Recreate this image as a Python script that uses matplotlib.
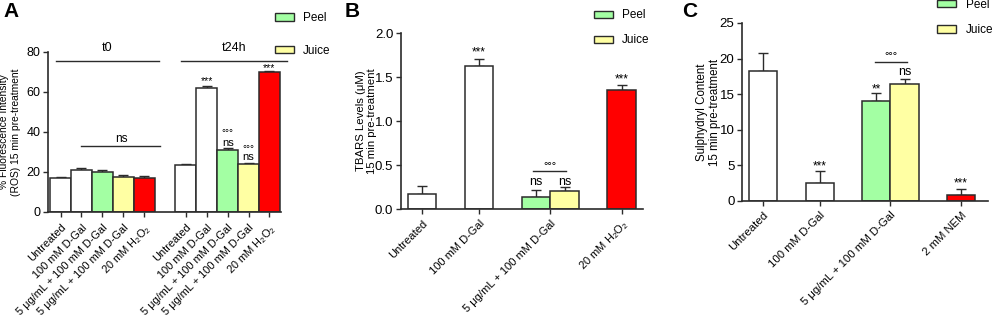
import matplotlib
matplotlib.use("Agg")
import matplotlib.pyplot as plt
from matplotlib.patches import Patch

plt.rcParams['font.family'] = ['Liberation Sans', 'DejaVu Sans']
plt.rcParams['mathtext.fontset'] = 'custom'
plt.rcParams['mathtext.rm'] = 'Liberation Sans'
plt.rcParams['mathtext.it'] = 'Liberation Sans:italic'
plt.rcParams['mathtext.bf'] = 'Liberation Sans:bold'

# ---------------- data ----------------
A_labels = ["Untreated", "100 mM D-Gal", "5 μg/mL + 100 mM D-Gal",
            "5 μg/mL + 100 mM D-Gal", "20 mM H$_2$O$_2$"]
A_t0 = [17.0, 21.0, 20.0, 17.5, 17.0]
A_t0_err = [0.5, 1.0, 1.2, 0.8, 0.8]
A_t24 = [23.5, 62.0, 31.0, 24.0, 70.0]
A_t24_err = [0.7, 0.8, 1.0, 0.7, 0.6]

B_labels = ["Untreated", "100 mM D-Gal", "5 μg/mL + 100 mM D-Gal", "20 mM H$_2$O$_2$"]
B_vals = [0.17, 1.62, 0.14, 0.20, 1.35]
B_err = [0.09, 0.09, 0.08, 0.05, 0.06]

C_labels = ["Untreated", "100 mM D-Gal", "5 μg/mL + 100 mM D-Gal", "2 mM NEM"]
C_vals = [18.2, 2.5, 14.0, 16.5, 0.9]
C_err = [2.6, 1.7, 1.1, 0.6, 0.8]

legend_labels = ["Peel", "Juice"]

# ---------------- style ----------------
WHITE, GREEN, YELLOW, RED = "#FFFFFF", "#A3FFA3", "#FFFFA3", "#FF0000"
EDGE = "#2b2b2b"
bar_colors5 = [WHITE, WHITE, GREEN, YELLOW, RED]

fig = plt.figure(figsize=(9.96, 3.15), dpi=100)

def style_axis(ax, ysize):
    for s in ['top', 'right']:
        ax.spines[s].set_visible(False)
    for s in ['left', 'bottom']:
        ax.spines[s].set_linewidth(1.2)
        ax.spines[s].set_color(EDGE)
    ax.tick_params(axis='both', direction='out', width=1.0, color=EDGE, length=3.5)
    ax.tick_params(axis='y', labelsize=ysize, pad=2)

def bars(ax, x, vals, errs, colors):
    ax.bar(x, vals, width=1.0, color=colors, edgecolor=EDGE, linewidth=1.1, zorder=2)
    ax.errorbar(x, vals, yerr=[[0]*len(errs), errs], fmt='none', ecolor=EDGE,
                elinewidth=1.0, capsize=3.5, capthick=1.0, zorder=1)

def xlabels(ax, ticks, labels, size, pad=4):
    ax.set_xticks(ticks)
    ax.set_xticklabels(labels, rotation=45, ha='right', rotation_mode='anchor',
                       fontsize=size)
    ax.tick_params(axis='x', pad=pad)

def legend(x, y, spacing):
    handles = [Patch(facecolor=GREEN, edgecolor=EDGE, linewidth=1.0),
               Patch(facecolor=YELLOW, edgecolor=EDGE, linewidth=1.0)]
    fig.legend(handles, legend_labels, loc='upper left', bbox_to_anchor=(x, y),
               bbox_transform=fig.transFigure, frameon=False, fontsize=8.5,
               handlelength=1.6, handleheight=0.6, handletextpad=0.8,
               labelspacing=spacing, borderpad=0, borderaxespad=0)

# ---------------- panel A ----------------
axA = fig.add_axes([0.0482, 0.327, 0.2339, 0.508])
style_axis(axA, 9)
xA0 = [0, 1, 2, 3, 4]
xA1 = [6, 7, 8, 9, 10]
bars(axA, xA0, A_t0, A_t0_err, bar_colors5)
bars(axA, xA1, A_t24, A_t24_err, bar_colors5)
axA.set_ylim(0, 80)
axA.set_yticks([0, 20, 40, 60, 80])
axA.set_xlim(-0.6, 10.55)
xlabels(axA, xA0 + xA1, A_labels + A_labels, 7.9)
axA.text(-0.162, 0.5, "% Fluorescence Intensity\n(ROS) 15 min pre-treatment",
         transform=axA.transAxes, rotation=90, ha='center', va='center',
         fontsize=7.4, multialignment='center', linespacing=1.25)
# group lines
axA.plot([-0.2, 4.7], [75.5, 75.5], color=EDGE, lw=1.0, clip_on=False)
axA.plot([5.75, 10.85], [75.5, 75.5], color=EDGE, lw=1.0, clip_on=False)
axA.text(2.25, 82, "t0", ha='center', va='center', fontsize=9, clip_on=False)
axA.text(8.3, 82, "t24h", ha='center', va='center', fontsize=9, clip_on=False)
axA.plot([1.0, 4.75], [33, 33], color=EDGE, lw=1.0)
axA.text(2.9, 36.5, "ns", ha='center', va='center', fontsize=8.5)
axA.text(7, 65.3, "***", ha='center', va='center', fontsize=7.5)
axA.text(10, 71.8, "***", ha='center', va='center', fontsize=7.5, clip_on=False)
axA.text(8, 39.2, "°°°", ha='center', va='center', fontsize=7)
axA.text(8, 34.6, "ns", ha='center', va='center', fontsize=8)
axA.text(9, 31.6, "°°°", ha='center', va='center', fontsize=7)
axA.text(9, 27.3, "ns", ha='center', va='center', fontsize=8)
fig.text(0.004, 0.962, "A", fontsize=15, fontweight='bold', ha='left', va='center')
legend(0.276, 0.962, 1.75)

# ---------------- panel B ----------------
axB = fig.add_axes([0.4026, 0.3365, 0.2430, 0.5587])
style_axis(axB, 9.5)
xB = [0, 2, 4, 5, 7]
bars(axB, xB, B_vals, B_err, bar_colors5)
axB.set_ylim(0, 2.0)
axB.set_yticks([0.0, 0.5, 1.0, 1.5, 2.0])
axB.set_yticklabels(["0.0", "0.5", "1.0", "1.5", "2.0"])
axB.set_xlim(-0.74, 7.75)
xlabels(axB, [0, 2, 4.5, 7], B_labels, 8.0, pad=3)
axB.text(-0.143, 0.5, "TBARS Levels (μM)\n15 min pre-treatment",
         transform=axB.transAxes, rotation=90, ha='center', va='center',
         fontsize=8.2, multialignment='center', linespacing=1.1)
axB.text(2, 1.78, "***", ha='center', va='center', fontsize=8.5)
axB.text(7, 1.47, "***", ha='center', va='center', fontsize=8.5)
axB.plot([3.9, 5.05], [0.43, 0.43], color=EDGE, lw=1.0)
axB.text(4.5, 0.49, "°°°", ha='center', va='center', fontsize=8)
axB.text(4, 0.31, "ns", ha='center', va='center', fontsize=9)
axB.text(5, 0.31, "ns", ha='center', va='center', fontsize=9)
fig.text(0.346, 0.962, "B", fontsize=15, fontweight='bold', ha='left', va='center')
legend(0.596, 0.97, 1.1)

# ---------------- panel C ----------------
axC = fig.add_axes([0.745, 0.362, 0.247, 0.565])
style_axis(axC, 9.5)
xC = [0, 2, 4, 5, 7]
bars(axC, xC, C_vals, C_err, bar_colors5)
axC.set_ylim(0, 25)
axC.set_yticks([0, 5, 10, 15, 20, 25])
axC.set_xlim(-0.75, 7.95)
xlabels(axC, [0, 2, 4.5, 7], C_labels, 8.2, pad=3)
axC.text(-0.137, 0.5, "Sulphydryl Content\n15 min pre-treatment",
         transform=axC.transAxes, rotation=90, ha='center', va='center',
         fontsize=8.3, multialignment='center', linespacing=1.1)
axC.text(2, 4.9, "***", ha='center', va='center', fontsize=8.5)
axC.text(4, 15.7, "**", ha='center', va='center', fontsize=8.5)
axC.text(5, 18.1, "ns", ha='center', va='center', fontsize=9)
axC.plot([3.95, 5.1], [19.5, 19.5], color=EDGE, lw=1.0)
axC.text(4.5, 20.4, "°°°", ha='center', va='center', fontsize=8)
axC.text(7, 2.4, "***", ha='center', va='center', fontsize=8.5)
fig.text(0.685, 0.962, "C", fontsize=15, fontweight='bold', ha='left', va='center')
legend(0.941, 1.004, 1.15)

fig.savefig("out.png", dpi=100)
